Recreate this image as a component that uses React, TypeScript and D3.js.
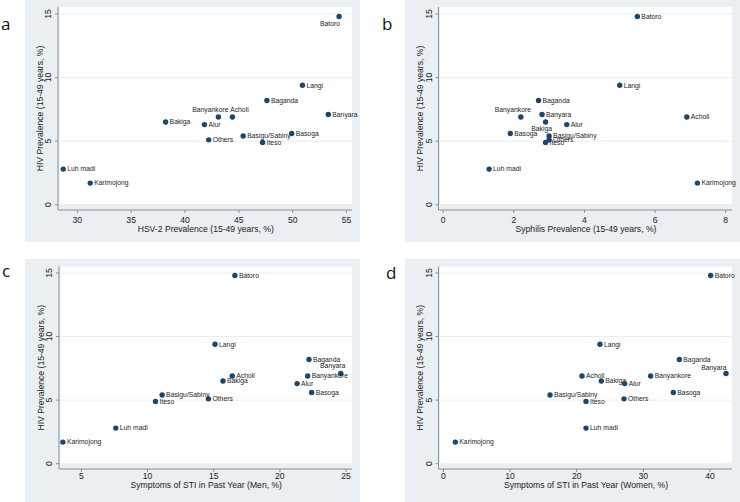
import React from "react";
import * as d3 from "d3";

const groups = ["Batoro", "Langi", "Baganda", "Banyara", "Banyankore", "Acholi", "Bakiga", "Alur", "Others", "Basigu/Sabiny", "Iteso", "Basoga", "Luh madi", "Karimojong"];
const hivPrev = [14.8, 9.4, 8.2, 7.1, 6.9, 6.9, 6.5, 6.3, 5.1, 5.4, 4.9, 5.6, 2.8, 1.7];
const hsv2Prev = [54.3, 50.9, 47.6, 53.3, 43.1, 44.4, 38.2, 41.8, 42.2, 45.4, 47.2, 49.9, 28.7, 31.2];
const syphilisPrev = [5.5, 5.0, 2.7, 2.8, 2.2, 6.9, 2.9, 3.5, 3.0, 3.0, 2.9, 1.9, 1.3, 7.2];
const stiMen = [16.6, 15.1, 22.2, 24.6, 22.1, 16.4, 15.7, 21.3, 14.6, 11.1, 10.6, 22.4, 7.6, 3.6];
const stiWomen = [40.1, 23.5, 35.4, 42.4, 31.1, 20.8, 23.7, 27.2, 27.1, 16.0, 21.4, 34.5, 21.4, 1.8];

const yTicks = [0, 5, 10, 15];
const xTicksA = [30, 35, 40, 45, 50, 55];
const xTicksB = [0, 2, 4, 6, 8];
const xTicksC = [5, 10, 15, 20, 25];
const xTicksD = [0, 10, 20, 30, 40];

const yTitle = "HIV Prevalence (15-49 years, %)";
const xTitles = [
  "HSV-2 Prevalence (15-49 years, %)",
  "Syphilis Prevalence (15-49 years, %)",
  "Symptoms of STI in Past Year (Men, %)",
  "Symptoms of STI in Past Year (Women, %)",
];
const panelLetters = ["a", "b", "c", "d"];

// label placement (clock positions), default 3 o'clock
const labelPos: Record<string, Record<string, number>>[] = [
  { pos: { Batoro: 7, Banyankore: 11, Acholi: 1 } },
  { pos: { Banyankore: 11, Bakiga: 6 } },
  { pos: { Banyara: 11 } },
  { pos: { Banyara: 10 } },
];

const FONT = "'Liberation Sans', Arial, Helvetica, sans-serif";
const BG = "#e9eff2";
const NAVY = "#1a476f";

function placement(clock: number) {
  switch (clock) {
    case 7: return { dx: 1, dy: 7, anchor: "end" };
    case 11: return { dx: -8, dy: -7.5, anchor: "middle" };
    case 1: return { dx: 7, dy: -7, anchor: "middle" };
    case 6: return { dx: -4, dy: 6.5, anchor: "middle" };
    case 10: return { dx: 0.5, dy: -5.8, anchor: "end" };
    default: return { dx: 4, dy: 0, anchor: "start" };
  }
}

type PanelProps = {
  idx: number;
  gx: number; gy: number; gw: number; gh: number;
  left: number; right: number; top: number; bottom: number;
  xDomain: [number, number];
  xTicks: number[];
  xs: number[];
  axisY: number;
  tickLabOff: number;
  titleOff: number;
  letterX: number; letterY: number;
};

function Panel(p: PanelProps) {
  const y0 = p.top;
  const yPix0 = p.bottom - 0.3;
  const x = d3.scaleLinear().domain(p.xDomain).range([p.left, p.right]);
  const y = d3.scaleLinear().domain([0, 15]).range([p.gy + 204.7, p.gy + 14]);
  const axisX = p.left - 1.5;
  const place = labelPos[p.idx].pos;
  return (
    <g>
      <rect x={p.gx} y={p.gy} width={p.gw} height={p.gh} fill={BG} />
      <rect x={p.left} y={y0} width={p.right - p.left} height={yPix0 - y0} fill="#ffffff" />
      {yTicks.map((t) => (
        <line key={"g" + t} x1={p.left} x2={p.right} y1={y(t)} y2={y(t)} stroke="#e3e8eb" strokeWidth={0.8} />
      ))}
      <line x1={axisX} x2={axisX} y1={y0} y2={p.axisY} stroke="#7a7a7a" strokeWidth={0.8} />
      <line x1={axisX} x2={p.right} y1={p.axisY} y2={p.axisY} stroke="#7a7a7a" strokeWidth={0.8} />
      {yTicks.map((t) => (
        <g key={"yt" + t}>
          <line x1={axisX - 3} x2={axisX} y1={y(t)} y2={y(t)} stroke="#7a7a7a" strokeWidth={0.8} />
          <text
            transform={`translate(${axisX - 7},${y(t)}) rotate(-90)`}
            textAnchor="middle"
            fontFamily={FONT}
            fontSize={8.6}
            fill="#222"
          >
            {t}
          </text>
        </g>
      ))}
      {p.xTicks.map((t) => (
        <g key={"xt" + t}>
          <line x1={x(t)} x2={x(t)} y1={p.axisY} y2={p.axisY + 3} stroke="#7a7a7a" strokeWidth={0.8} />
          <text x={x(t)} y={p.axisY + p.tickLabOff} textAnchor="middle" fontFamily={FONT} fontSize={8.6} fill="#222">
            {t}
          </text>
        </g>
      ))}
      <text
        x={(p.left + p.right) / 2}
        y={p.axisY + p.titleOff}
        textAnchor="middle"
        fontFamily={FONT}
        fontSize={8.6}
        fill="#222"
      >
        {xTitles[p.idx]}
      </text>
      <text
        transform={`translate(${axisX - 15.5},${(y0 + p.axisY) / 2}) rotate(-90)`}
        textAnchor="middle"
        fontFamily={FONT}
        fontSize={8.6}
        fill="#222"
      >
        {yTitle}
      </text>
      {groups.map((g, i) => {
        const cx = x(p.xs[i]);
        const cy = y(hivPrev[i]);
        const pl = placement(place[g] ?? 3);
        return (
          <g key={g}>
            <circle cx={cx} cy={cy} r={2.7} fill={NAVY} />
            <text
              x={cx + pl.dx}
              y={cy + pl.dy}
              dy="0.35em"
              textAnchor={pl.anchor as any}
              fontFamily={FONT}
              fontSize={6.8}
              fill="#1e1e1e"
            >
              {g}
            </text>
          </g>
        );
      })}
      <text x={p.letterX} y={p.letterY} fontFamily="'Open Sans', 'Noto Sans', sans-serif" fontSize={17} fill="#111">
        {panelLetters[p.idx]}
      </text>
    </g>
  );
}

export default function App() {
  const topRow = { gy: 0, top: 7, bottom: 205, axisY: 210, tickLabOff: 12.5, titleOff: 22 };
  const botRow = { gy: 259, top: 266.5, bottom: 464.5, axisY: 469, tickLabOff: 9.5, titleOff: 19 };
  return (
    <svg
      width={740}
      height={502}
      style={{ position: "absolute", left: 0, top: 0, background: "#ffffff" }}
    >
      <Panel idx={0} gx={25} gw={335} gh={242} left={59.5} right={352} xDomain={[28.35, 55.5]} xTicks={xTicksA} xs={hsv2Prev} letterX={1} letterY={30} {...topRow} />
      <Panel idx={1} gx={405} gw={335} gh={242} left={440} right={732} xDomain={[-0.09, 8.18]} xTicks={xTicksB} xs={syphilisPrev} letterX={382} letterY={30} {...topRow} />
      <Panel idx={2} gx={25} gw={335} gh={243} left={60.5} right={352} xDomain={[3.42, 25.45]} xTicks={xTicksC} xs={stiMen} letterX={2} letterY={277} {...botRow} />
      <Panel idx={3} gx={405} gw={335} gh={243} left={440} right={732} xDomain={[-0.5, 43.3]} xTicks={xTicksD} xs={stiWomen} letterX={386} letterY={279} {...botRow} />
    </svg>
  );
}
